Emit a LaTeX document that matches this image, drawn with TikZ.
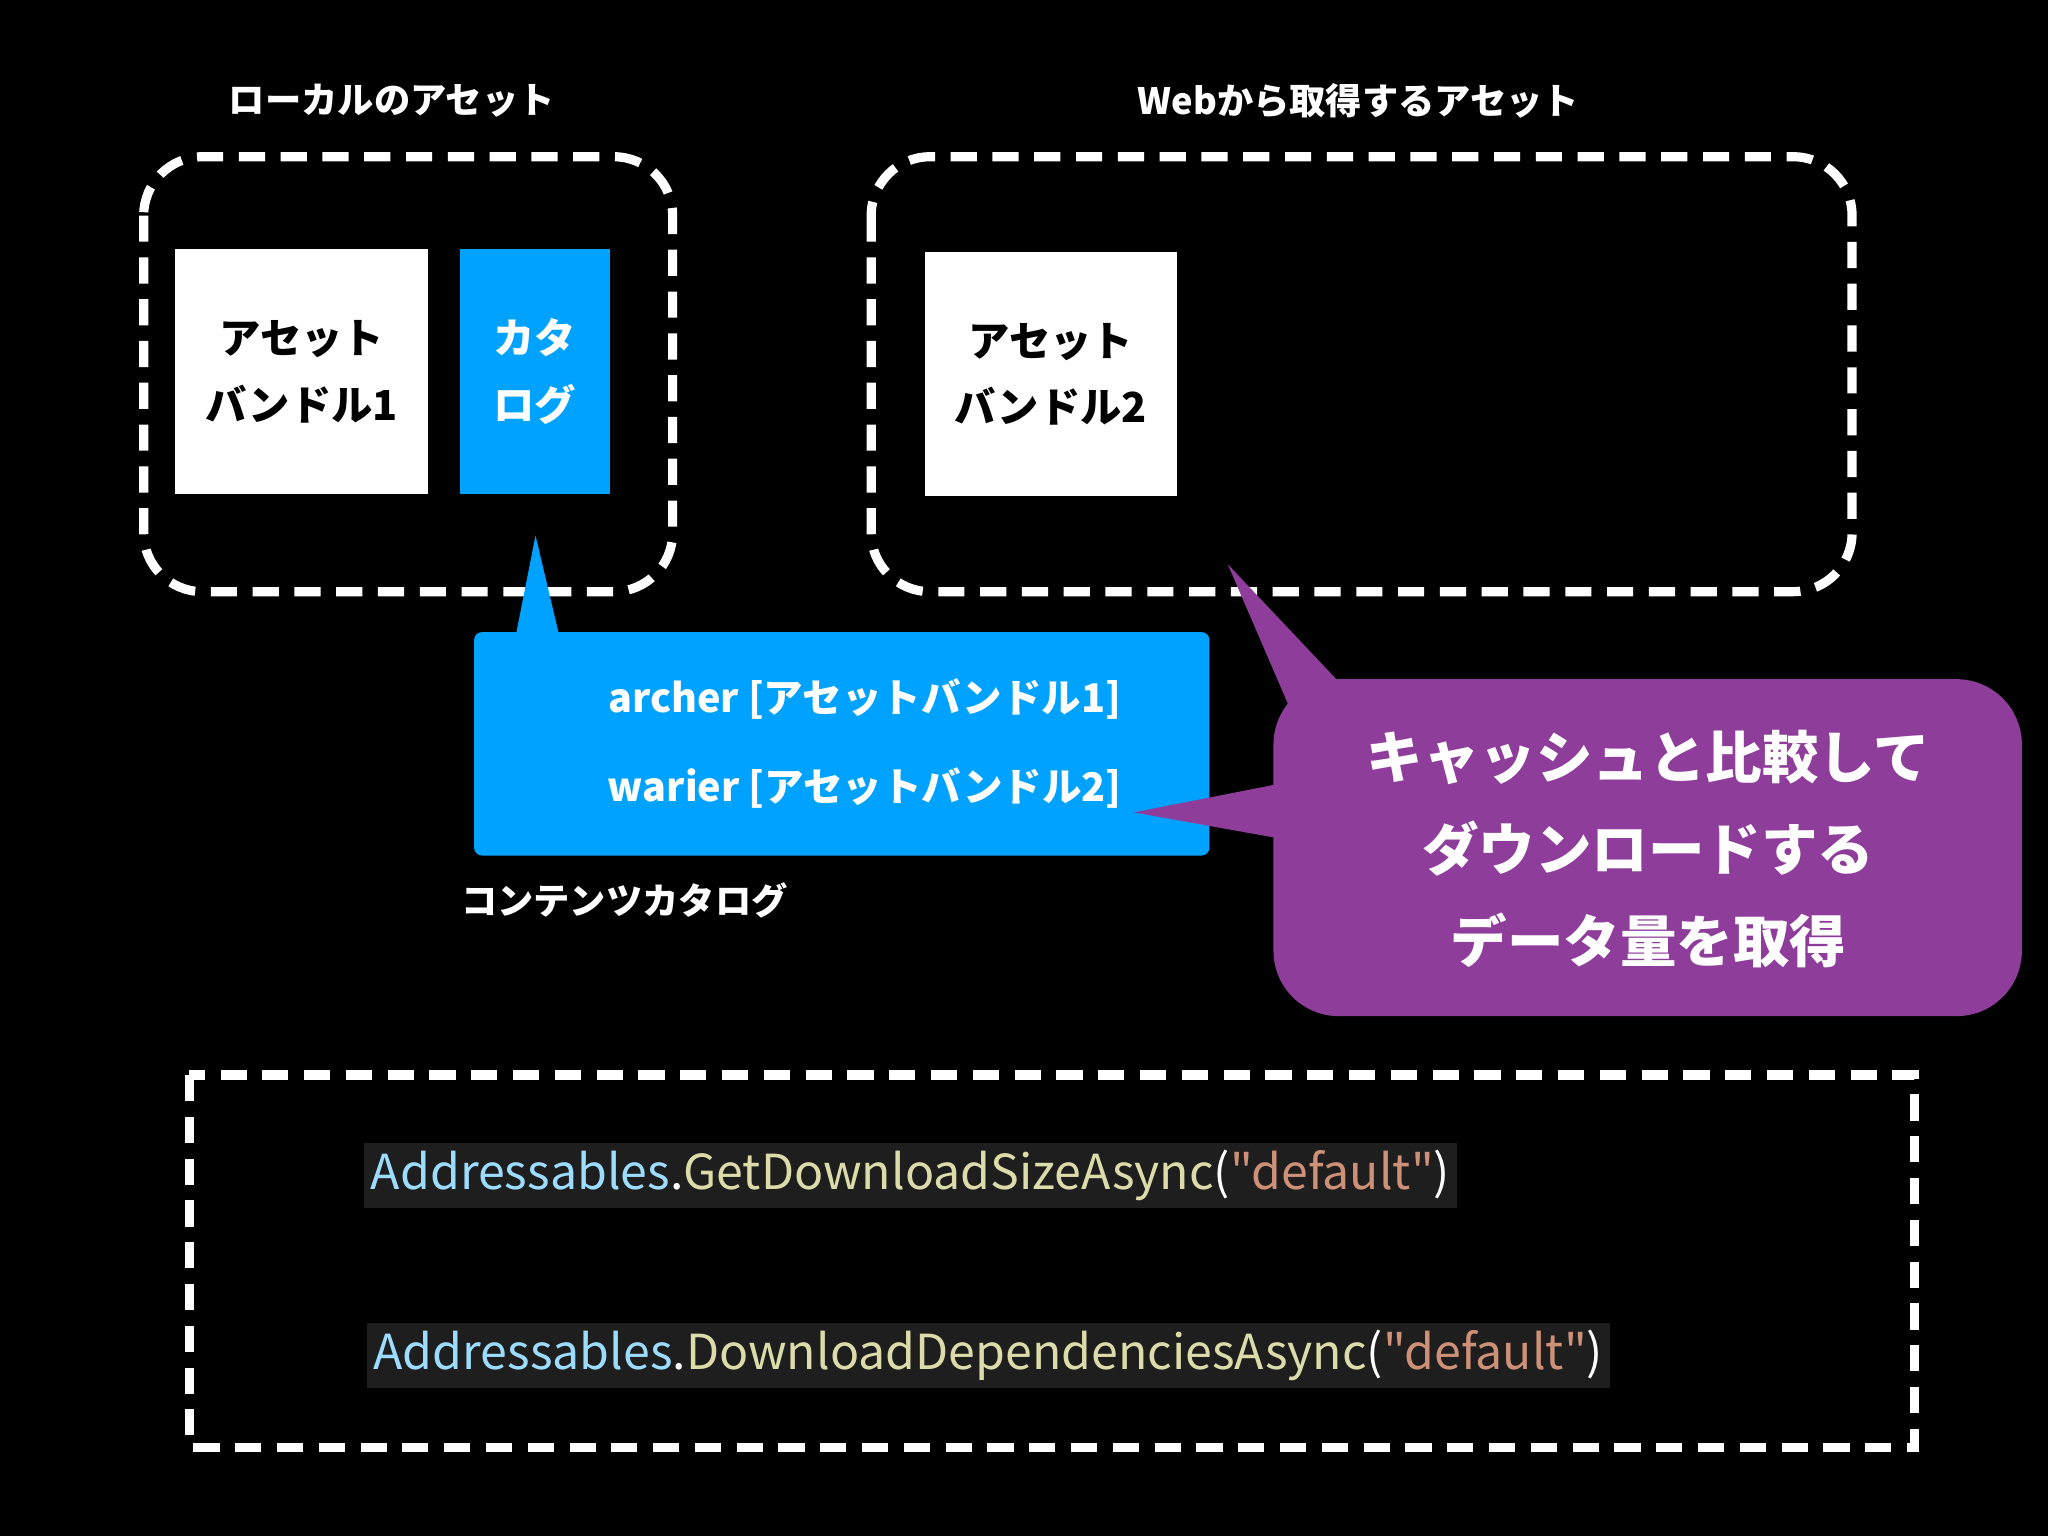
\documentclass[tikz,border=0pt]{standalone}
\usepackage{fontspec}
\setmainfont{Noto Sans CJK JP}
\newfontfamily\codef{Noto Sans CJK JP}[Ligatures=TeXOff]
\newcommand\jpb{\bfseries}
\newcommand\dq{\char34\relax}
\begin{document}
\begin{tikzpicture}[x=0.01cm,y=-0.01cm,
  dashbox/.style={draw=white,line width=2pt,dash pattern=on 5.7pt off 3.4pt},
  box/.style={fill=white,text=black,font=\jpb\fontsize{9}{14.5}\selectfont,align=center},
  ttl/.style={text=white,font=\jpb\fontsize{7.9}{10}\selectfont},
  code/.style={fill=codebg,inner sep=1.5pt,anchor=west,font=\codef\fontsize{10.5}{13}\selectfont}]
\definecolor{blu}{HTML}{00A2FF}
\definecolor{pur}{HTML}{8E3E9A}
\definecolor{codebg}{HTML}{1E1E1E}
\definecolor{cA}{HTML}{9CDCFE}
\definecolor{cF}{HTML}{DCDCAA}
\definecolor{cS}{HTML}{CE9178}
\fill[black] (0,0) rectangle (1568,1176);
\node[ttl] (t1) at (300,77) {ローカルのアセット};
\node[ttl] (t2) at (1040,77) {Webから取得するアセット};
\draw[dashbox,rounded corners=0.45cm] (110,120) rectangle (515,453);
\draw[dashbox,rounded corners=0.45cm] (667,120) rectangle (1418,453);
\node[box,minimum width=1.94cm,minimum height=1.87cm] (b1) at (231,284.5) {アセット\\バンドル1};
\node[box,fill=blu,text=white,minimum width=1.15cm,minimum height=1.87cm] (cat) at (409.5,284.5) {カタ\\ログ};
\node[box,minimum width=1.93cm,minimum height=1.87cm] (b2) at (804.5,286.5) {アセット\\バンドル2};
% blue callout
\fill[blu,rounded corners=0.06cm] (363,484) rectangle (926,655);
\fill[blu] (395,486) -- (410,410) -- (428,486) -- cycle;
\node[text=white,font=\jpb\fontsize{8.6}{12}\selectfont] (l1) at (662,535) {archer [アセットバンドル1]};
\node[text=white,font=\jpb\fontsize{8.6}{12}\selectfont] (l2) at (662,603) {warier [アセットバンドル2]};
\node[ttl] (cc) at (478,689) {コンテンツカタログ};
% purple callout
\fill[pur,rounded corners=0.5cm] (975,520) rectangle (1548,778);
\fill[pur] (990,548) -- (940,432) -- (1025,522) -- cycle;
\fill[pur] (980,600) -- (868,622) -- (980,642) -- cycle;
\node[text=white,font=\jpb\fontsize{12.3}{20}\selectfont,align=center] (p) at (1262,650) {キャッシュと比較して\\ダウンロードする\\データ量を取得};
% code box
\draw[dashbox] (145,823) rectangle (1466,1108);
\node[code] (c1) at (278,900) {\textcolor{cA}{Addressables}\textcolor{white}{.}\textcolor{cF}{GetDownloadSizeAsync}\textcolor{white}{(}\textcolor{cS}{\dq default\dq}\textcolor{white}{)}};
\node[code] (c2) at (280,1038) {\textcolor{cA}{Addressables}\textcolor{white}{.}\textcolor{cF}{DownloadDependenciesAsync}\textcolor{white}{(}\textcolor{cS}{\dq default\dq}\textcolor{white}{)}};
\end{tikzpicture}
\end{document}
